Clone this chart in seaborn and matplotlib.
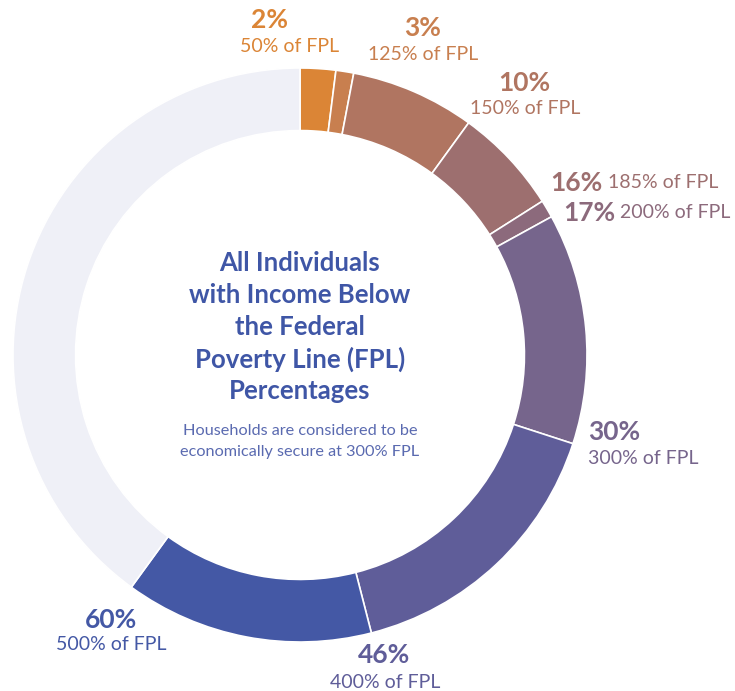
import matplotlib
matplotlib.use("Agg")
import matplotlib.pyplot as plt
import seaborn as sns

# cumulative share of individuals below each FPL threshold
cumulative = [2, 3, 10, 16, 17, 30, 46, 60]
thresholds = ["50% of FPL", "125% of FPL", "150% of FPL", "185% of FPL",
              "200% of FPL", "300% of FPL", "400% of FPL", "500% of FPL"]
colors = ["#DB8536", "#C87F4F", "#B07561", "#9D6F6F", "#8C6A7C",
          "#76658C", "#5F5D99", "#4458A5"]
rest_color = "#EFF0F7"

# label layout in pixels (pct x, pct y, pct align, desc x, desc y, desc align)
label_pos = [
    (270, 20, "center", 290, 47, "center"),
    (423, 28, "center", 423, 55, "center"),
    (524, 83, "center", 525, 109, "center"),
    (602, 183, "right", 608, 183, "left"),
    (615, 213, "right", 620, 213, "left"),
    (588, 432, "left", 588, 459, "left"),
    (384, 655, "center", 385, 682, "center"),
    (111, 620, "center", 111, 645, "center"),
]

sns.set_theme(style="white")
plt.rcParams["font.family"] = ["Lato", "DejaVu Sans"]

W, H = 735, 691
cx, cy, R = 300, 355, 287
fig = plt.figure(figsize=(W / 100, H / 100), dpi=100)
ax = fig.add_axes([(cx - R) / W, (H - cy - R) / H, 2 * R / W, 2 * R / H])

sizes = [cumulative[0]] + [b - a for a, b in zip(cumulative[:-1], cumulative[1:])]
sizes.append(100 - cumulative[-1])
ax.pie(sizes, colors=colors + [rest_color], startangle=90, counterclock=False,
       radius=1.0, wedgeprops=dict(width=0.218, edgecolor="white", linewidth=1.2))
ax.set_xlim(-1, 1)
ax.set_ylim(-1, 1)
ax.set_aspect("equal")
ax.axis("off")


def to_data(px, py):
    return (px - cx) / R, (cy - py) / R


for pct, desc, col, (px, py, pha, dx, dy, dha) in zip(cumulative, thresholds, colors, label_pos):
    x, y = to_data(px, py)
    ax.text(x, y, f"{pct}%", color=col, fontsize=19, fontweight="bold",
            ha=pha, va="center", clip_on=False)
    x, y = to_data(dx, dy)
    ax.text(x, y, desc, color=col, fontsize=14, fontweight="normal",
            ha=dha, va="center", clip_on=False)

title_lines = ["All Individuals", "with Income Below", "the Federal",
               "Poverty Line (FPL)", "Percentages"]
for i, line in enumerate(title_lines):
    x, y = to_data(300, 263 + i * 32)
    ax.text(x, y, line, color="#3F56A6", fontsize=18.5, fontweight="bold",
            ha="center", va="center")

sub_lines = ["Households are considered to be", "economically secure at 300% FPL"]
for i, line in enumerate(sub_lines):
    x, y = to_data(300, 431 + i * 21)
    ax.text(x, y, line, color="#5A6AB0", fontsize=11.7, ha="center", va="center")

fig.savefig("out.png", dpi=100, facecolor="white")
